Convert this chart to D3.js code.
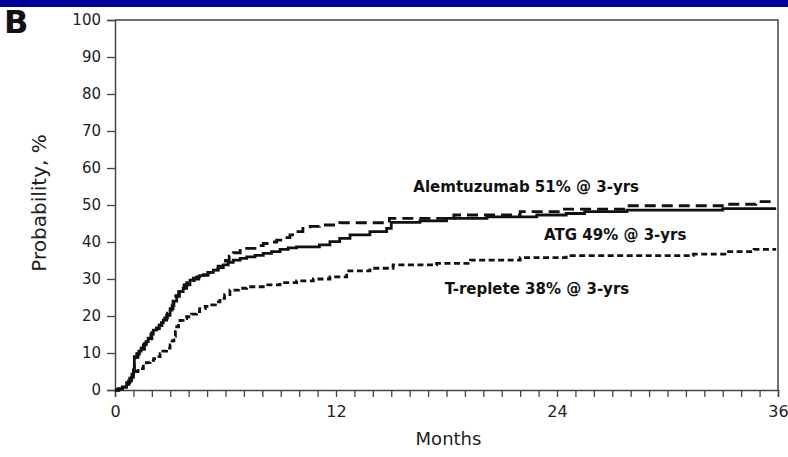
<!DOCTYPE html>
<html>
<head>
<meta charset="utf-8">
<script src="https://cdn.jsdelivr.net/npm/d3@7/dist/d3.min.js"></script>
<style>
  html, body { margin: 0; padding: 0; background: #fff; }
  svg { display: block; font-family: "DejaVu Sans", Verdana, sans-serif; }
</style>
</head>
<body>
<svg id="chart" width="788" height="457"></svg>
<script>
// Cumulative incidence (%) by month for each conditioning group
const alemtuzumab = [
  [0,0],[0.2,0.3],[0.4,0.8],[0.6,1.5],[0.75,2.5],[0.9,3.8],[1.0,5],[1.05,7],[1.1,8.8],
  [1.25,9.8],[1.4,11],[1.6,12.5],[1.8,13.8],[2.0,15.5],[2.2,16.5],[2.4,17.5],[2.55,18.5],
  [2.7,19.5],[2.85,20.8],[3.0,22],[3.15,24],[3.3,25.5],[3.45,26.6],[3.6,27.5],[3.75,28.4],
  [3.9,29],[4.1,29.6],[4.3,30],[4.55,30.6],[4.8,31],[5.05,31.8],[5.3,32.5],[5.6,33.5],
  [5.8,34.3],[6.0,35],[6.2,36.2],[6.42,37.1],[6.8,37.7],[7.15,38.3],[7.6,39],[8.05,39.6],
  [8.4,40],[8.78,40.5],[9.1,41.2],[9.5,41.9],[9.85,42.8],[10.2,43.7],[10.6,44.2],
  [11.1,44.6],[12.2,45.2],[14.9,46.4],[18.4,47.3],[22,48.2],[24.2,48.9],[27.8,49.8],
  [33.2,50.2],[34.8,50.9],[35.9,51]
];
const atg = [
  [0,0],[0.2,0.3],[0.4,0.8],[0.63,2],[0.8,3.2],[0.92,4.3],[1.0,5.4],[1.05,9],[1.18,9.8],
  [1.3,10.5],[1.42,11.4],[1.54,12.2],[1.68,13.1],[1.8,14],[1.95,15.1],[2.08,16.2],
  [2.25,16.8],[2.4,17.5],[2.52,18.2],[2.62,18.9],[2.8,20.2],[2.99,21.6],[3.1,22.8],
  [3.2,24],[3.35,25.3],[3.5,26.6],[3.7,27.5],[3.89,28.4],[4.07,29.7],[4.25,30.2],
  [4.43,30.6],[4.6,30.9],[4.8,31.2],[5.05,31.8],[5.34,32.4],[5.6,33.1],[5.88,33.8],
  [6.15,34.5],[6.42,35.1],[6.8,35.6],[7.15,36],[7.6,36.4],[8.05,36.9],[8.5,37.4],
  [8.96,38],[9.4,38.4],[9.86,38.7],[11.1,39.2],[11.67,40.1],[12.2,41],[12.76,41.9],
  [13.84,42.8],[14.75,43.7],[15.0,45.3],[16.56,45.7],[18.0,46.4],[20.2,46.8],
  [22.9,47.3],[24.5,47.7],[25.5,48.2],[27.8,48.6],[33.0,49],[35.9,49]
];
const tReplete = [
  [0,0],[0.2,0.3],[0.4,0.8],[0.6,1.5],[0.75,2.3],[0.9,3.5],[1.0,5],[1.25,5.8],[1.54,6.8],
  [1.7,7.4],[1.9,8],[2.1,8.5],[2.26,9],[2.45,9.8],[2.6,10.5],[2.8,11.3],[2.99,12.2],
  [3.1,13.3],[3.2,14.5],[3.28,15.8],[3.35,17.1],[3.45,18],[3.53,18.8],[3.7,19.3],
  [3.89,19.8],[4.15,20.5],[4.43,21.2],[4.6,22],[4.9,22.6],[5.16,23],[5.45,23.8],
  [5.7,24.8],[5.95,25.8],[6.24,27],[6.7,27.5],[7.15,27.9],[8.05,28.4],[8.96,29],
  [9.86,29.5],[10.77,30],[11.67,30.6],[12.58,32.2],[13.84,32.9],[15.1,33.8],[17.46,34.2],
  [19.3,35.1],[22,35.8],[24.5,36.3],[31.4,36.7],[33.2,37.4],[34.7,38],[35.9,38]
];

const seriesNames = ["Alemtuzumab", "ATG", "T-replete"];
const seriesData = [alemtuzumab, atg, tReplete];
const seriesLabels = ["Alemtuzumab 51% @ 3-yrs", "ATG 49% @ 3-yrs", "T-replete 38% @ 3-yrs"];
const seriesLabelAt = [[16.2, 53.4], [23.3, 40.5], [17.9, 25.9]]; // [month, %] anchor of each text
const seriesDash = ["11,6", null, "6,3.5"];

const yTicks = [0,10,20,30,40,50,60,70,80,90,100];
const xTickLabels = [0,12,24,36];
const xMinorTicks = d3.range(0, 37, 1);

const svg = d3.select("#chart");
const W = 788, H = 457;
const margin = {left: 115, top: 20, right: 10, bottom: 67};
const x = d3.scaleLinear().domain([0, 36]).range([margin.left, W - margin.right]);
const y = d3.scaleLinear().domain([0, 100]).range([H - margin.bottom, margin.top]);

// header band and panel letter
svg.append("rect").attr("x", 0).attr("y", 0).attr("width", W).attr("height", 7).attr("fill", "#000099");
svg.append("text").attr("x", 4).attr("y", 33).attr("font-size", 32).attr("font-weight", "bold")
  .attr("fill", "#111").text("B");

const axisColor = "#444";

// frame (top and right edges)
svg.append("path")
  .attr("d", `M${x(0)},${y(100)}H${x(36)}V${y(0)}`)
  .attr("fill", "none").attr("stroke", axisColor).attr("stroke-width", 1.5);

// y axis
const gy = svg.append("g").attr("transform", `translate(${x(0)},0)`)
  .call(d3.axisLeft(y).tickValues(yTicks).tickSize(8).tickPadding(6));
// x axis with monthly ticks, labelled every 12 months
const gx = svg.append("g").attr("transform", `translate(0,${y(0)})`)
  .call(d3.axisBottom(x).tickValues(xMinorTicks).tickSize(7).tickPadding(9)
    .tickFormat(d => xTickLabels.includes(d) ? d : ""));

[gx, gy].forEach(g => {
  g.select(".domain").attr("stroke", axisColor).attr("stroke-width", 1.5);
  g.selectAll(".tick line").attr("stroke", axisColor).attr("stroke-width", 1.3);
  g.selectAll(".tick text").attr("fill", "#222").attr("font-family", "DejaVu Sans, Verdana, sans-serif");
});
gy.selectAll(".tick text").attr("font-size", 15);
gx.selectAll(".tick text").attr("font-size", 16);

// axis titles
svg.append("text")
  .attr("transform", `translate(46,${(y(0) + y(100)) / 2 - 2}) rotate(-90)`)
  .attr("text-anchor", "middle").attr("font-size", 20).attr("fill", "#222")
  .text("Probability, %");
svg.append("text")
  .attr("x", (x(0) + x(36)) / 2 + 2).attr("y", 445)
  .attr("text-anchor", "middle").attr("font-size", 18).attr("fill", "#222")
  .text("Months");

// curves
const line = d3.line().x(d => x(d[0])).y(d => y(d[1])).curve(d3.curveStepAfter);
seriesData.forEach((data, i) => {
  svg.append("path")
    .datum(data)
    .attr("class", "curve " + seriesNames[i])
    .attr("fill", "none")
    .attr("stroke", "#111")
    .attr("stroke-width", 2.8)
    .attr("stroke-dasharray", seriesDash[i])
    .attr("d", line);
});

// curve annotations
seriesLabels.forEach((t, i) => {
  svg.append("text")
    .attr("x", x(seriesLabelAt[i][0])).attr("y", y(seriesLabelAt[i][1]))
    .attr("font-size", 15).attr("font-weight", "bold").attr("fill", "#111")
    .text(t);
});
</script>
</body>
</html>
